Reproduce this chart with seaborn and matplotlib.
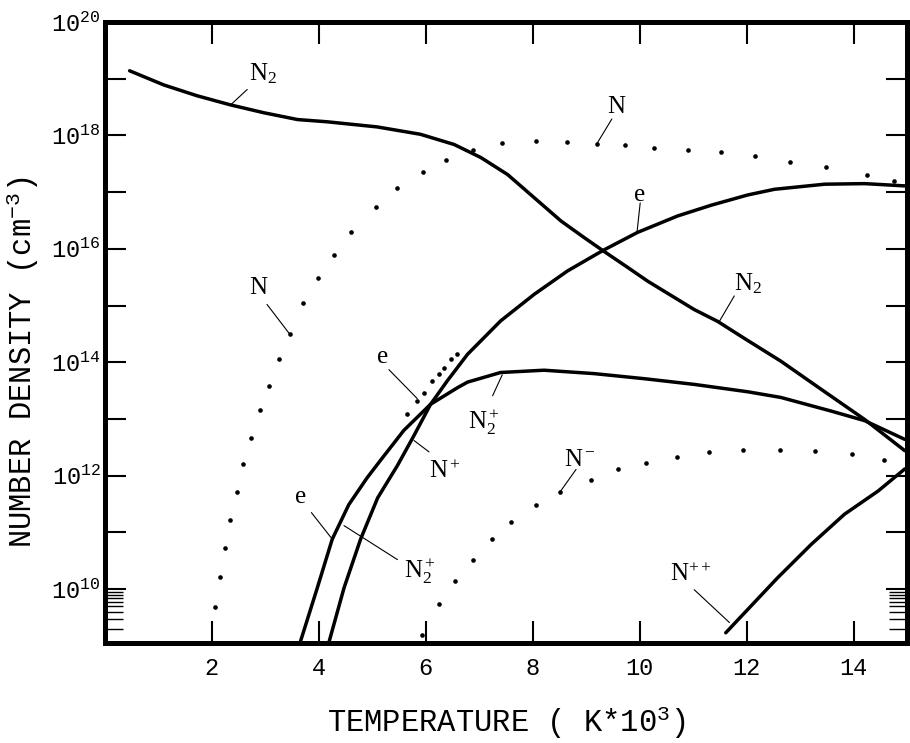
import numpy as np
import pandas as pd
import matplotlib
matplotlib.use("Agg")
import matplotlib.pyplot as plt
import seaborn as sns
from matplotlib.ticker import FixedLocator, FuncFormatter, NullFormatter, NullLocator

# Temperature in units of 10^3 K; densities given as log10(n / cm^-3)
n2_T = [0.46, 1.1, 1.72, 2.34, 2.97, 3.6, 4.16, 5.09, 5.9, 6.53, 7.03, 7.53, 8.03,
        8.53, 8.96, 9.31, 9.78, 10.15, 11.02, 11.46, 11.96, 12.64, 13.4, 14.21, 14.96]
n2_logn = [19.14, 18.89, 18.70, 18.54, 18.40, 18.28, 18.24, 18.15, 18.02, 17.84, 17.61,
           17.31, 16.90, 16.49, 16.20, 15.97, 15.67, 15.43, 14.93, 14.72, 14.42, 14.02,
           13.52, 12.99, 12.44]

# electrons coincide with N2+ at low temperature, then N2+ alone
n2p_T = [3.63, 3.97, 4.25, 4.56, 4.9, 5.16, 5.59, 6.09, 6.59, 6.78, 7.4, 8.21, 9.15,
         10.09, 11.02, 12.02, 12.64, 13.58, 14.21, 14.96]
n2p_logn = [9.0, 10.02, 10.88, 11.49, 11.96, 12.28, 12.80, 13.26, 13.55, 13.65, 13.82,
            13.86, 13.80, 13.71, 13.61, 13.48, 13.38, 13.14, 12.97, 12.64]

# N+ and, above ~7000 K, the electrons that follow it
np_T = [4.17, 4.47, 4.78, 5.1, 5.47, 5.78, 6.09, 6.4, 6.78, 7.4, 8.03, 8.65, 9.31,
        9.96, 10.71, 11.34, 12.02, 12.52, 13.46, 14.21, 14.96]
np_logn = [9.0, 10.02, 10.88, 11.61, 12.18, 12.71, 13.26, 13.67, 14.14, 14.73, 15.20,
           15.61, 15.97, 16.29, 16.58, 16.77, 16.95, 17.05, 17.14, 17.15, 17.11]

npp_T = [11.61, 12.02, 12.58, 13.21, 13.83, 14.46, 14.96]
npp_logn = [9.23, 9.64, 10.2, 10.79, 11.32, 11.73, 12.12]

# atomic nitrogen (dotted)
n_T = [2.06, 2.15, 2.24, 2.34, 2.47, 2.58, 2.73, 2.9, 3.07, 3.26, 3.46, 3.71, 3.99,
       4.29, 4.61, 5.06, 5.46, 5.94, 6.37, 6.89, 7.42, 8.07, 8.64, 9.20, 9.73, 10.26,
       10.9, 11.52, 12.15, 12.81, 13.48, 14.25, 14.75]
n_logn = [9.69, 10.22, 10.73, 11.22, 11.72, 12.21, 12.67, 13.15, 13.59, 14.05, 14.5,
          15.05, 15.49, 15.9, 16.29, 16.73, 17.07, 17.36, 17.57, 17.74, 17.87, 17.90,
          17.89, 17.84, 17.83, 17.78, 17.75, 17.71, 17.63, 17.54, 17.44, 17.3, 17.2]

# negative ion N- (dotted)
nm_T = [5.92, 6.24, 6.55, 6.89, 7.24, 7.59, 8.07, 8.51, 9.09, 9.6, 10.12, 10.69,
        11.29, 11.93, 12.62, 13.28, 13.98, 14.57]
nm_logn = [9.19, 9.73, 10.15, 10.52, 10.88, 11.19, 11.48, 11.71, 11.93, 12.11, 12.23,
           12.33, 12.42, 12.46, 12.46, 12.43, 12.38, 12.28]

# electrons in the N2+ -> N+ crossover (dotted)
ex_T = [5.65, 5.83, 5.97, 6.12, 6.25, 6.34, 6.47, 6.58]
ex_logn = [13.08, 13.31, 13.45, 13.67, 13.8, 13.9, 14.05, 14.14]

x_ticks = [2, 4, 6, 8, 10, 12, 14]
x_ticklabels = ["2", "4", "6", "8", "10", "12", "14"]
y_decades = list(range(10, 21))

# curve labels: text, label anchor (T, log n), leader start, leader end
curve_labels = [
    (r"$\mathrm{N}_2$", (2.70, 18.97), (2.66, 18.81), (2.34, 18.53)),
    (r"$\mathrm{N}$", (9.38, 18.40), (9.48, 18.29), (9.21, 17.87)),
    (r"$\mathrm{e}$", (9.87, 16.85), (10.01, 16.81), (9.95, 16.29)),
    (r"$\mathrm{N}_2$", (11.77, 15.26), (11.77, 15.17), (11.49, 14.72)),
    (r"$\mathrm{N}$", (2.69, 15.20), (3.03, 15.02), (3.46, 14.49)),
    (r"$\mathrm{e}$", (5.06, 13.99), (5.31, 13.87), (5.84, 13.36)),
    (r"$\mathrm{N}_2^+$", (6.78, 12.82), (7.25, 13.41), (7.43, 13.78)),
    (r"$\mathrm{N}^+$", (6.06, 11.96), (6.06, 12.42), (5.78, 12.62)),
    (r"$\mathrm{N}^-$", (8.59, 12.17), (8.81, 12.11), (8.50, 11.70)),
    (r"$\mathrm{e}$", (3.53, 11.51), (3.86, 11.35), (4.26, 10.87)),
    (r"$\mathrm{N}_2^+$", (5.59, 10.20), (5.47, 10.52), (4.47, 11.12)),
    (r"$\mathrm{N}^{++}$", (10.56, 10.14), (11.02, 9.99), (11.68, 9.41)),
]

sns.set_theme(style="ticks")
plt.rcParams.update({
    "font.family": ["Liberation Mono", "DejaVu Sans Mono"],
    "mathtext.fontset": "custom",
    "mathtext.rm": "Liberation Serif",
    "mathtext.it": "Liberation Serif:italic",
    "mathtext.bf": "Liberation Serif:bold",
    "mathtext.tt": "Liberation Mono",
    "axes.edgecolor": "black",
    "text.color": "black",
    "axes.labelcolor": "black",
    "xtick.color": "black",
    "ytick.color": "black",
    "lines.solid_capstyle": "round",
    "lines.solid_joinstyle": "round",
})

fig = plt.figure(figsize=(9.10, 7.43), dpi=100)
ax = fig.add_axes([105 / 910, 1 - 643 / 743, (907 - 105) / 910, (643 - 22) / 743])
ax.set_yscale("log")
ax.set_xlim(0, 15)
ax.set_ylim(10 ** 9.05, 1e20)


def solid(T, logn):
    df = pd.DataFrame({"T": T, "n": np.power(10.0, logn)})
    sns.lineplot(data=df, x="T", y="n", ax=ax, color="black", linewidth=2.5,
                 sort=False, estimator=None)


def dotted(T, logn):
    df = pd.DataFrame({"T": T, "n": np.power(10.0, logn)})
    sns.scatterplot(data=df, x="T", y="n", ax=ax, color="black", s=11,
                    linewidth=0, marker="o")


solid(n2_T, n2_logn)
solid(n2p_T, n2p_logn)
solid(np_T, np_logn)
solid(npp_T, npp_logn)
dotted(n_T, n_logn)
dotted(nm_T, nm_logn)
dotted(ex_T, ex_logn)

for text, (tx, ty), (x0, y0), (x1, y1) in curve_labels:
    ax.text(tx, 10 ** ty, text, fontsize=18, ha="left", va="baseline")
    ax.annotate("", xy=(x1, 10 ** y1), xytext=(x0, 10 ** y0),
                arrowprops=dict(arrowstyle="-", lw=0.8, color="black",
                                shrinkA=0, shrinkB=0))

# axes frame and ticks
for sp in ax.spines.values():
    sp.set_linewidth(3.6)
    sp.set_color("black")

ax.xaxis.set_major_locator(FixedLocator(x_ticks))
ax.xaxis.set_major_formatter(FuncFormatter(lambda v, p: x_ticklabels[x_ticks.index(int(round(v)))]))
ax.xaxis.set_minor_locator(NullLocator())
ax.yaxis.set_major_locator(FixedLocator([10.0 ** k for k in y_decades]))
ax.yaxis.set_minor_locator(FixedLocator([k * 1e9 for k in range(2, 10)]))
ax.yaxis.set_minor_formatter(NullFormatter())


def decade_label(v, pos):
    e = int(round(np.log10(v)))
    return r"$\mathtt{10^{%d}}$" % e if e % 2 == 0 else ""


ax.yaxis.set_major_formatter(FuncFormatter(decade_label))

ax.tick_params(which="both", direction="in", top=True, right=True, color="black")
ax.tick_params(axis="x", which="major", length=16, width=1.5, labelsize=17, pad=10)
ax.tick_params(axis="y", which="major", length=15, width=1.5, labelsize=17, pad=3)
ax.tick_params(axis="y", which="minor", length=13, width=1.0)

ax.set_xlabel(r"TEMPERATURE ( K*10$^{\mathtt{3}}$)", fontsize=22, labelpad=18)
ax.set_ylabel(r"NUMBER DENSITY (cm$^{\mathtt{-3}}$)", fontsize=22)
ax.yaxis.set_label_coords(-0.08, 0.452)

fig.savefig("out.png", dpi=100, facecolor="white")
